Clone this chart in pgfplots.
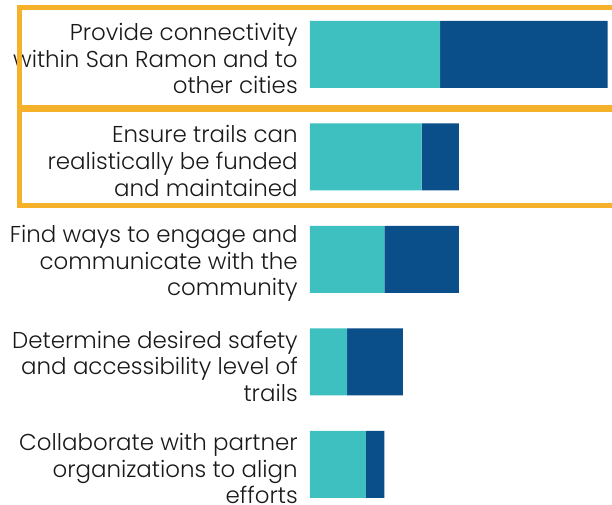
\documentclass[border=0pt]{standalone}
\usepackage{fontspec}
\setmainfont{Poppins}[UprightFont=* Light]
\usepackage{pgfplots}
\pgfplotsset{compat=1.18}
\definecolor{tealbar}{HTML}{3EBFC0}
\definecolor{bluebar}{HTML}{0B4F8A}
\definecolor{hiorange}{HTML}{F5B12A}
\begin{document}
\begin{tikzpicture}[x=0.75pt,y=0.75pt]
\useasboundingbox (0,0) rectangle (612,505);
\begin{axis}[at={(232.5pt,30.375pt)}, anchor=origin,
  x=13.95pt, y=76.875pt,
  xmin=0, xmax=16.3, ymin=-0.5, ymax=4.5,
  xbar stacked, bar width=50.25pt,
  axis line style={draw=none}, major tick style={draw=none},
  xtick=\empty, ytick={0,1,2,3,4},
  yticklabels={{Collaborate with partner\\organizations to align\\efforts},
    {Determine desired safety\\and accessibility level of\\trails},
    {Find ways to engage and\\communicate with the\\community},
    {Ensure trails can\\realistically be funded\\and maintained},
    {Provide connectivity\\within San Ramon and to\\other cities}},
  y tick label style={align=right, font=\fontsize{17.2}{19.9}\selectfont, inner sep=0pt, xshift=-9pt, yshift=-3pt, text=black!90},
  clip=false]
\addplot[fill=tealbar, draw=none] coordinates {(3,0) (2,1) (4,2) (6,3) (7,4)};
\addplot[fill=bluebar, draw=none] coordinates {(1,0) (3,1) (4,2) (2,3) (9,4)};
\end{axis}
\draw[hiorange, line width=3.75pt] (19.5,497.5) rectangle (640,397);
\draw[hiorange, line width=3.75pt] (19.5,395) rectangle (640,299);
\end{tikzpicture}
\end{document}
